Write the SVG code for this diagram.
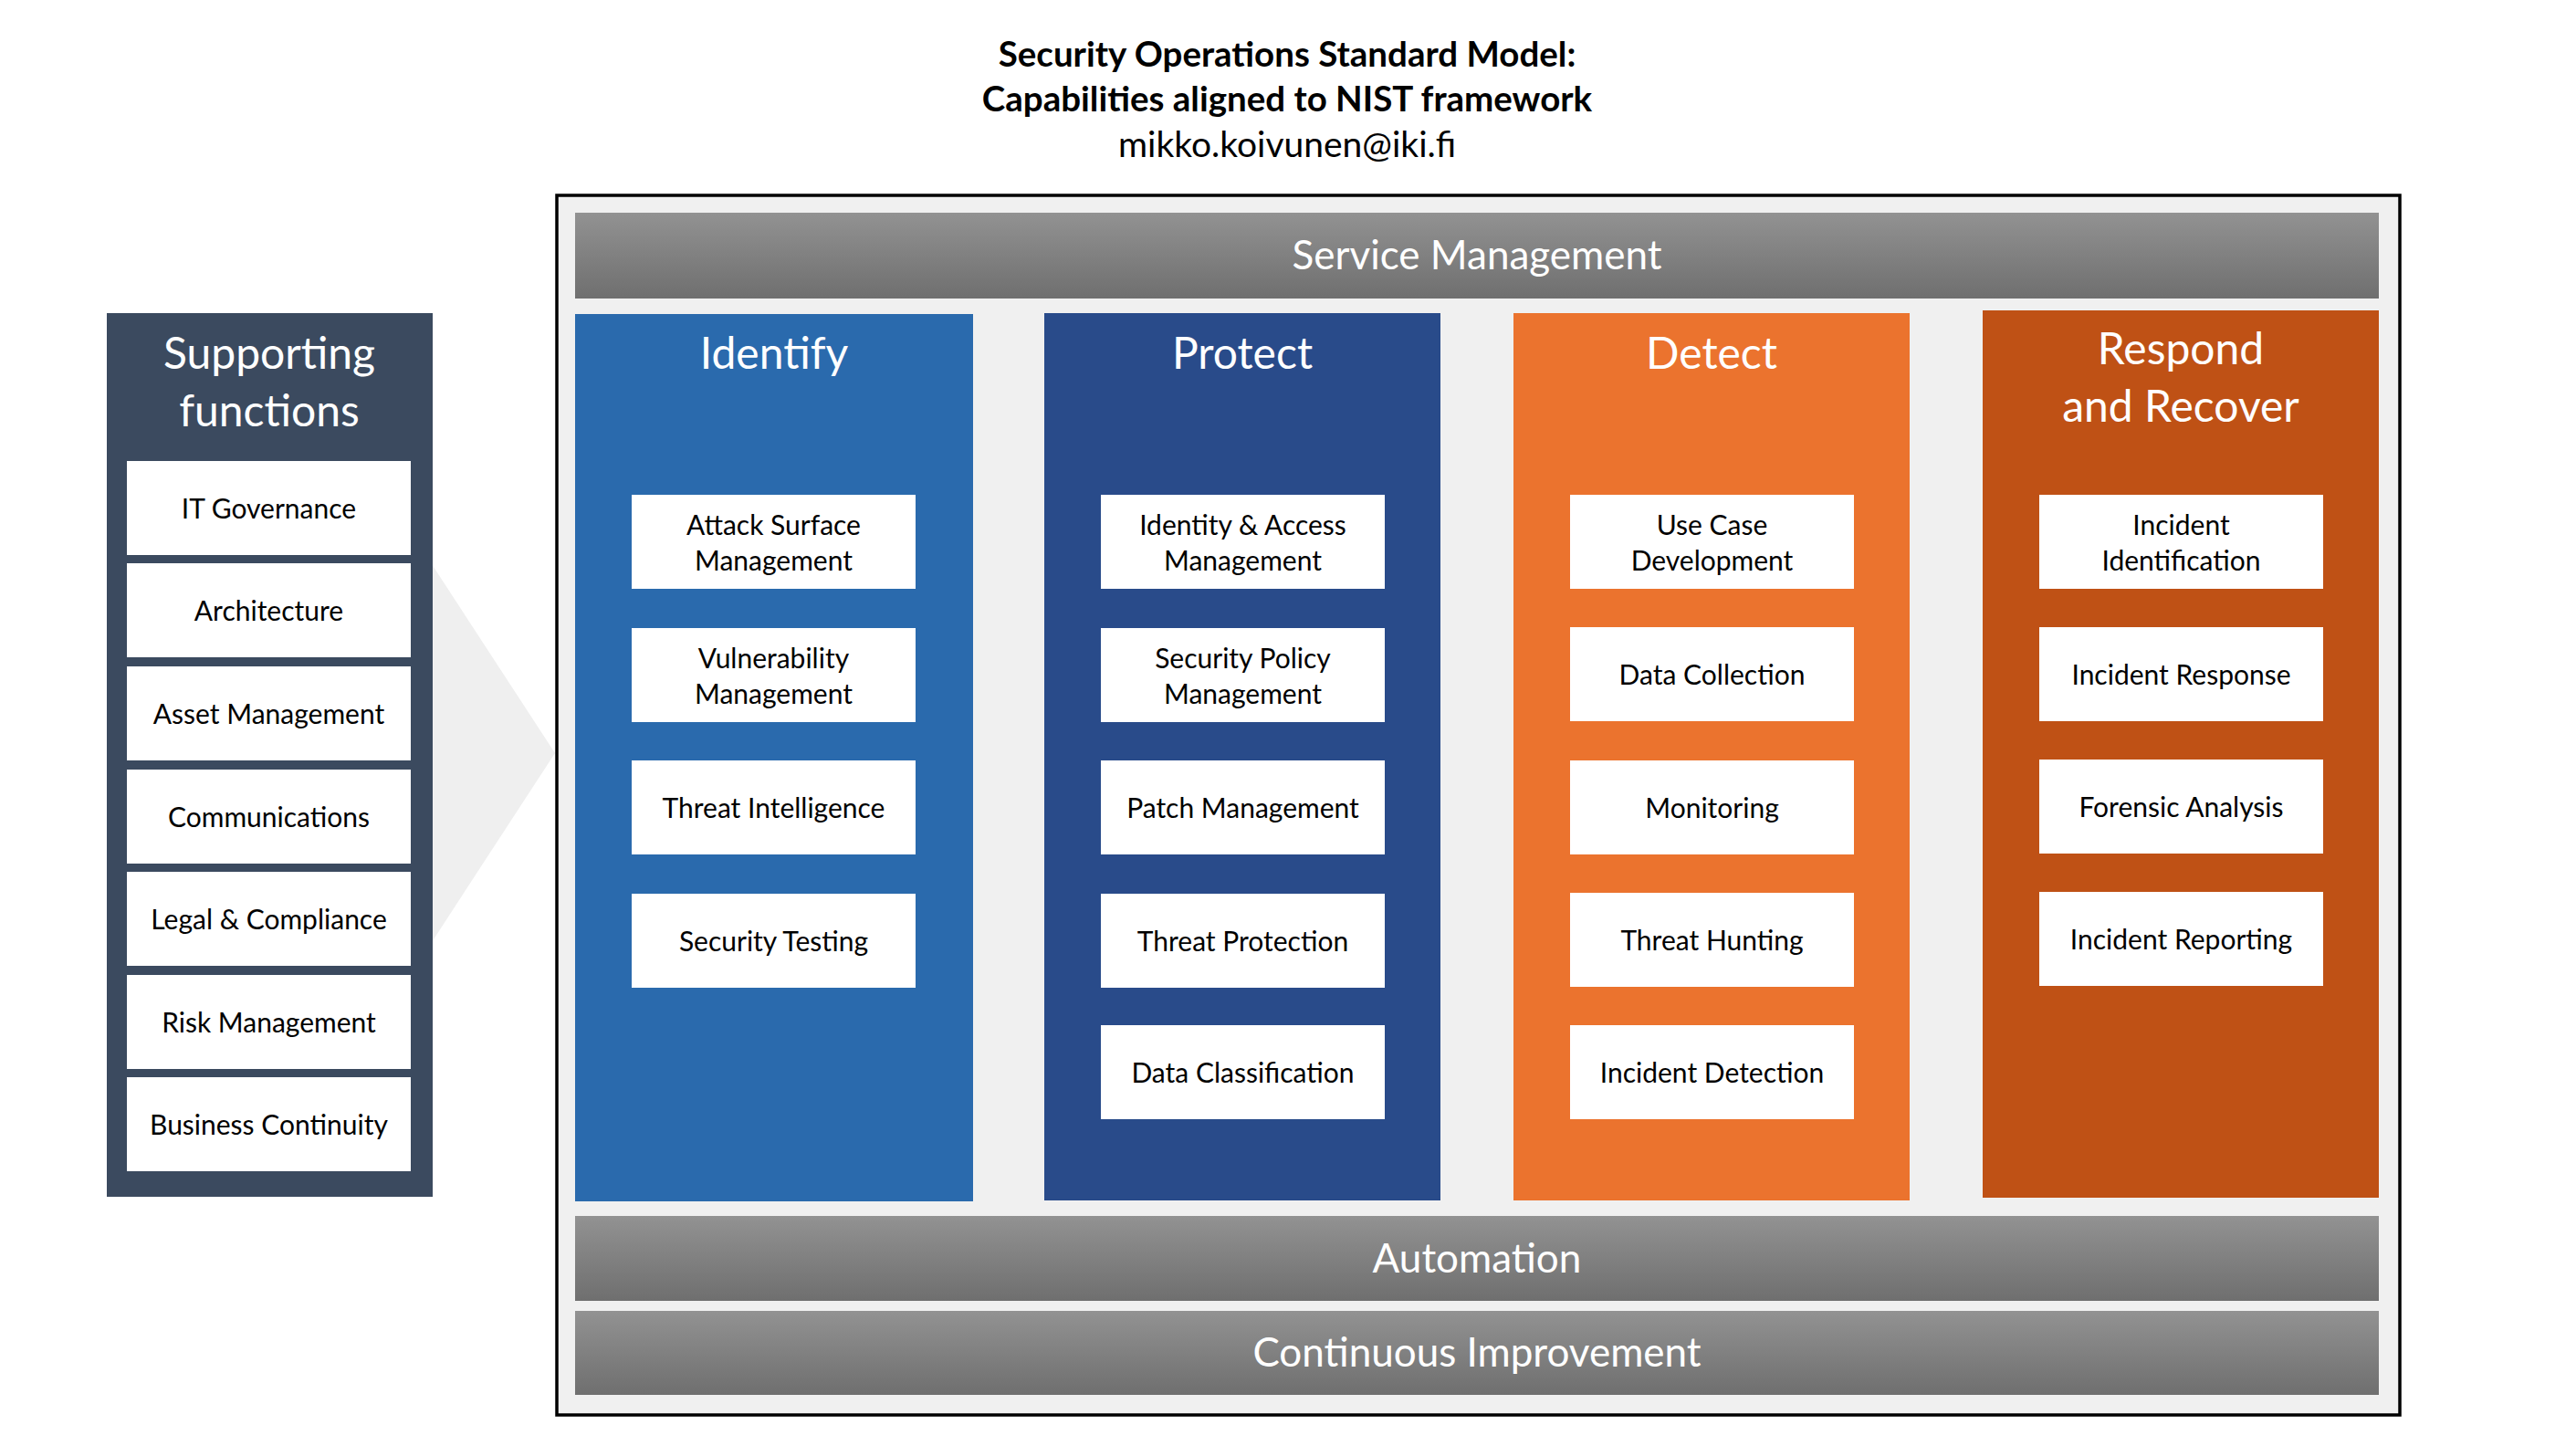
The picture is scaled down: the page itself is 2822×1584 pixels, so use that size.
<svg xmlns="http://www.w3.org/2000/svg" width="2822" height="1584" viewBox="0 0 2822 1584">
  <defs>
    <linearGradient id="barGrad" x1="0" y1="0" x2="0" y2="1">
      <stop offset="0" stop-color="#929292"/>
      <stop offset="1" stop-color="#6f6f6f"/>
    </linearGradient>
    <style>
      text { font-family: Lato, "Open Sans", "Liberation Sans", sans-serif; text-anchor: middle; }
      .title { font-size: 38.5px; font-weight: 700; fill: #000; }
      .email { font-size: 39px; fill: #000; }
      .bar { fill: url(#barGrad); }
      .barText { font-size: 44px; fill: #fff; }
      .colTitle { font-size: 48px; fill: #fff; }
      .box { fill: #fff; }
      .boxText { font-size: 30px; fill: #000; }
    </style>
  </defs>
  <rect width="2822" height="1584" fill="#fff"/>

  <g id="title">
    <text class="title" x="1410" y="73">Security Operations Standard Model:</text>
    <text class="title" x="1410" y="122">Capabilities aligned to NIST framework</text>
    <text class="email" x="1410" y="172">mikko.koivunen@iki.fi</text>
  </g>

  <g id="connectors">
    <polygon points="430,552 608,825 430,1098" fill="#efefef"/>
  </g>

  <g id="frame">
    <rect x="610" y="214" width="2019" height="1336" fill="#f0f0f0" stroke="#000" stroke-width="3.5"/>
  </g>

  <g id="service-management">
    <rect class="bar" x="630" y="233" width="1976" height="94"/>
    <text class="barText" x="1618" y="295">Service Management</text>
  </g>
  <g id="automation">
    <rect class="bar" x="630" y="1332" width="1976" height="93"/>
    <text class="barText" x="1618" y="1394">Automation</text>
  </g>
  <g id="continuous-improvement">
    <rect class="bar" x="630" y="1436" width="1976" height="92"/>
    <text class="barText" x="1618" y="1497">Continuous Improvement</text>
  </g>

  <g id="supporting-functions">
    <rect x="117" y="343" width="357" height="968" fill="#3b4a5f"/>
    <text class="colTitle" x="295" y="404">Supporting</text>
    <text class="colTitle" x="295" y="467">functions</text>
    <rect class="box" x="139" y="505" width="311" height="103"/>
    <text class="boxText" x="294.5" y="567.5">IT Governance</text>
    <rect class="box" x="139" y="617" width="311" height="103"/>
    <text class="boxText" x="294.5" y="679.5">Architecture</text>
    <rect class="box" x="139" y="730" width="311" height="103"/>
    <text class="boxText" x="294.5" y="792.5">Asset Management</text>
    <rect class="box" x="139" y="843" width="311" height="103"/>
    <text class="boxText" x="294.5" y="905.5">Communications</text>
    <rect class="box" x="139" y="955" width="311" height="103"/>
    <text class="boxText" x="294.5" y="1017.5">Legal &amp; Compliance</text>
    <rect class="box" x="139" y="1068" width="311" height="103"/>
    <text class="boxText" x="294.5" y="1130.5">Risk Management</text>
    <rect class="box" x="139" y="1180" width="311" height="103"/>
    <text class="boxText" x="294.5" y="1242.5">Business Continuity</text>
  </g>

  <g id="identify">
    <rect x="630" y="344" width="436" height="972" fill="#2a6aad"/>
    <text class="colTitle" x="848" y="404">Identify</text>
    <rect class="box" x="692" y="542" width="311" height="103"/>
    <text class="boxText" x="847.5" y="586">Attack Surface</text>
    <text class="boxText" x="847.5" y="625">Management</text>
    <rect class="box" x="692" y="688" width="311" height="103"/>
    <text class="boxText" x="847.5" y="732">Vulnerability</text>
    <text class="boxText" x="847.5" y="771">Management</text>
    <rect class="box" x="692" y="833" width="311" height="103"/>
    <text class="boxText" x="847.5" y="895.5">Threat Intelligence</text>
    <rect class="box" x="692" y="979" width="311" height="103"/>
    <text class="boxText" x="847.5" y="1041.5">Security Testing</text>
  </g>

  <g id="protect">
    <rect x="1144" y="343" width="434" height="972" fill="#294b8a"/>
    <text class="colTitle" x="1361" y="404">Protect</text>
    <rect class="box" x="1206" y="542" width="311" height="103"/>
    <text class="boxText" x="1361.5" y="586">Identity &amp; Access</text>
    <text class="boxText" x="1361.5" y="625">Management</text>
    <rect class="box" x="1206" y="688" width="311" height="103"/>
    <text class="boxText" x="1361.5" y="732">Security Policy</text>
    <text class="boxText" x="1361.5" y="771">Management</text>
    <rect class="box" x="1206" y="833" width="311" height="103"/>
    <text class="boxText" x="1361.5" y="895.5">Patch Management</text>
    <rect class="box" x="1206" y="979" width="311" height="103"/>
    <text class="boxText" x="1361.5" y="1041.5">Threat Protection</text>
    <rect class="box" x="1206" y="1123" width="311" height="103"/>
    <text class="boxText" x="1361.5" y="1185.5">Data Classification</text>
  </g>

  <g id="detect">
    <rect x="1658" y="343" width="434" height="972" fill="#eb732e"/>
    <text class="colTitle" x="1875" y="404">Detect</text>
    <rect class="box" x="1720" y="542" width="311" height="103"/>
    <text class="boxText" x="1875.5" y="586">Use Case</text>
    <text class="boxText" x="1875.5" y="625">Development</text>
    <rect class="box" x="1720" y="687" width="311" height="103"/>
    <text class="boxText" x="1875.5" y="749.5">Data Collection</text>
    <rect class="box" x="1720" y="833" width="311" height="103"/>
    <text class="boxText" x="1875.5" y="895.5">Monitoring</text>
    <rect class="box" x="1720" y="978" width="311" height="103"/>
    <text class="boxText" x="1875.5" y="1040.5">Threat Hunting</text>
    <rect class="box" x="1720" y="1123" width="311" height="103"/>
    <text class="boxText" x="1875.5" y="1185.5">Incident Detection</text>
  </g>

  <g id="respond-recover">
    <rect x="2172" y="340" width="434" height="972" fill="#bf5115"/>
    <text class="colTitle" x="2389" y="399">Respond</text>
    <text class="colTitle" x="2389" y="462">and Recover</text>
    <rect class="box" x="2234" y="542" width="311" height="103"/>
    <text class="boxText" x="2389.5" y="586">Incident</text>
    <text class="boxText" x="2389.5" y="625">Identification</text>
    <rect class="box" x="2234" y="687" width="311" height="103"/>
    <text class="boxText" x="2389.5" y="749.5">Incident Response</text>
    <rect class="box" x="2234" y="832" width="311" height="103"/>
    <text class="boxText" x="2389.5" y="894.5">Forensic Analysis</text>
    <rect class="box" x="2234" y="977" width="311" height="103"/>
    <text class="boxText" x="2389.5" y="1039.5">Incident Reporting</text>
  </g>
</svg>
